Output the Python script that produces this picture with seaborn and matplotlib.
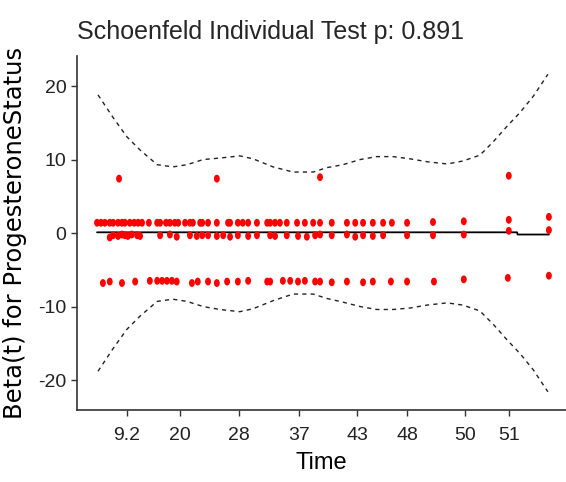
import numpy as np
import pandas as pd
import matplotlib
matplotlib.use("Agg")
import matplotlib.pyplot as plt
from matplotlib.path import Path
from matplotlib.transforms import Affine2D
import seaborn as sns

# transformed time (0-100 scale) of the residual points
up_t = [4.1, 4.9, 5.7, 6.7, 7.4, 8.4, 9.2, 9.8, 10.8, 11.7, 12.5, 13.3, 14.7, 16.4, 17.0,
        18.2, 19.0, 20.0, 20.7, 22.1, 23.1, 23.7, 25.2, 25.6, 26.8, 28.6, 30.9, 31.3, 32.9,
        33.9, 35.0, 36.8, 38.9, 39.5, 40.5, 41.5, 42.9, 45.0, 46.6, 48.3, 49.7, 52.1, 55.2,
        56.9, 58.5, 60.5, 62.6, 64.4, 67.5, 72.8, 79.1, 88.3, 96.5]
up_r = [1.4, 1.4, 1.4, 1.4, 1.4, 1.4, 1.4, 1.4, 1.4, 1.4, 1.4, 1.4, 1.4, 1.4, 1.4,
        1.4, 1.4, 1.4, 1.4, 1.4, 1.4, 1.4, 1.4, 1.4, 1.4, 1.4, 1.4, 1.4, 1.4,
        1.4, 1.4, 1.4, 1.4, 1.4, 1.4, 1.4, 1.4, 1.4, 1.4, 1.4, 1.4, 1.4, 1.4,
        1.4, 1.4, 1.4, 1.4, 1.4, 1.4, 1.5, 1.6, 1.8, 2.2]

mid_t = [6.7, 7.4, 8.4, 9.2, 9.8, 10.4, 11.2, 12.3, 12.9, 17.0, 19.0, 20.4, 23.1, 24.5,
         25.6, 26.8, 28.6, 29.9, 31.3, 32.9, 35.0, 36.8, 39.5, 40.5, 42.9, 45.2, 47.0, 48.7,
         49.7, 52.1, 55.2, 56.9, 58.5, 60.5, 62.6, 67.5, 72.8, 79.1, 88.3, 96.5]
mid_r = [-0.6, -0.3, -0.4, -0.2, -0.3, -0.4, -0.2, -0.3, -0.4, -0.3, -0.2, -0.5, -0.3, -0.4,
         -0.3, -0.3, -0.4, -0.3, -0.5, -0.3, -0.4, -0.3, -0.3, -0.4, -0.3, -0.4, -0.5, -0.3,
         -0.2, -0.3, -0.2, -0.5, -0.3, -0.4, -0.3, -0.3, -0.3, -0.2, 0.3, 0.4]

low_t = [5.3, 6.7, 9.2, 11.9, 14.9, 16.4, 17.4, 18.4, 19.4, 20.4, 23.5, 24.7, 26.8, 28.6,
         30.7, 32.9, 35.0, 38.9, 39.5, 42.1, 43.6, 45.2, 46.6, 48.7, 49.7, 52.1, 55.2, 58.5,
         60.5, 64.2, 67.5, 73.0, 79.1, 88.1, 96.5]
low_r = [-6.8, -6.6, -6.8, -6.6, -6.5, -6.5, -6.5, -6.5, -6.5, -6.6, -6.8, -6.6, -6.6, -6.8,
         -6.6, -6.6, -6.5, -6.6, -6.6, -6.5, -6.5, -6.6, -6.5, -6.6, -6.6, -6.7, -6.6, -6.7,
         -6.6, -6.6, -6.6, -6.6, -6.3, -6.1, -5.8]

out_t = [8.6, 28.6, 49.7, 88.3]
out_r = [7.4, 7.4, 7.6, 7.8]

# fitted beta(t) and its confidence band
fit_t = [4.1, 30.0, 60.0, 90.0, 90.1, 96.5]
fit_b = [0.1, 0.1, 0.1, 0.1, -0.2, -0.2]

band_t = [4.3, 7.4, 10.2, 12.9, 16.4, 19.6, 22.5, 25.8, 29.2, 33.3, 36.0, 40.1, 44.2, 48.3,
          51.1, 54.4, 57.9, 61.3, 64.6, 68.1, 71.6, 75.7, 78.9, 82.4, 85.1, 87.9, 90.6, 93.3, 96.3]
band_hi = [18.8, 15.7, 13.1, 11.3, 9.3, 9.0, 9.3, 10.0, 10.2, 10.5, 10.1, 9.0, 8.3, 8.3,
           8.9, 9.3, 10.0, 10.4, 10.4, 10.1, 9.7, 9.4, 9.8, 10.6, 12.4, 14.5, 16.4, 18.6, 21.6]
band_lo = [-18.8, -15.7, -13.1, -11.3, -9.3, -9.0, -9.3, -10.0, -10.4, -10.7, -10.3, -9.2, -8.3, -8.3,
           -8.9, -9.4, -10.0, -10.4, -10.4, -10.2, -9.8, -9.5, -9.8, -10.6, -12.4, -14.5, -16.4, -18.6, -21.6]

tick_pos = [10.2, 21.1, 33.1, 45.4, 57.3, 67.5, 79.3, 88.3]
tick_lab = ["9.2", "20", "28", "37", "43", "48", "50", "51"]

pts = pd.DataFrame({
    "t": up_t + mid_t + low_t + out_t,
    "r": up_r + mid_r + low_r + out_r,
})

sns.set_style("ticks")
plt.rcParams["font.family"] = ["Liberation Sans", "DejaVu Sans"]
plt.rcParams["axes.unicode_minus"] = False

fig = plt.figure(figsize=(5.66, 4.82), dpi=100)
ax = fig.add_axes([0.136, 0.149, 0.864, 0.735])

# slightly tall dots like the original
oval = Path.unit_circle().transformed(Affine2D().scale(0.75, 1.0))

sns.scatterplot(data=pts, x="t", y="r", ax=ax, color="red", marker=oval, s=32,
                edgecolor="none", zorder=3)
sns.lineplot(x=fit_t, y=fit_b, ax=ax, color="black", lw=1.3, zorder=2)
sns.lineplot(x=band_t, y=band_hi, ax=ax, color="#222222", lw=1.0, zorder=2,
             linestyle=(0, (3, 3)))
sns.lineplot(x=band_t, y=band_lo, ax=ax, color="#222222", lw=1.0, zorder=2,
             linestyle=(0, (3, 3)))

ax.set_xlim(0, 100)
ax.set_ylim(-24.1, 24.1)
ax.set_xticks(tick_pos)
ax.set_xticklabels(tick_lab)
ax.set_yticks([-20, -10, 0, 10, 20])
ax.tick_params(labelsize=14, length=4, width=1, colors="#333333", labelcolor="#222222")
ax.tick_params(axis="x", pad=8)

sns.despine(ax=ax)
for s in ["left", "bottom"]:
    ax.spines[s].set_color("#333333")
    ax.spines[s].set_linewidth(1.2)

ax.set_xlabel("Time", fontsize=17, color="black", labelpad=6)
ax.set_ylabel("Beta(t) for ProgesteroneStatus", fontsize=17.5, color="black",
              labelpad=8, family="DejaVu Sans")
ax.set_title("Schoenfeld Individual Test p: 0.891", fontsize=18, loc="left", pad=12)

fig.savefig("out.png", dpi=100)
